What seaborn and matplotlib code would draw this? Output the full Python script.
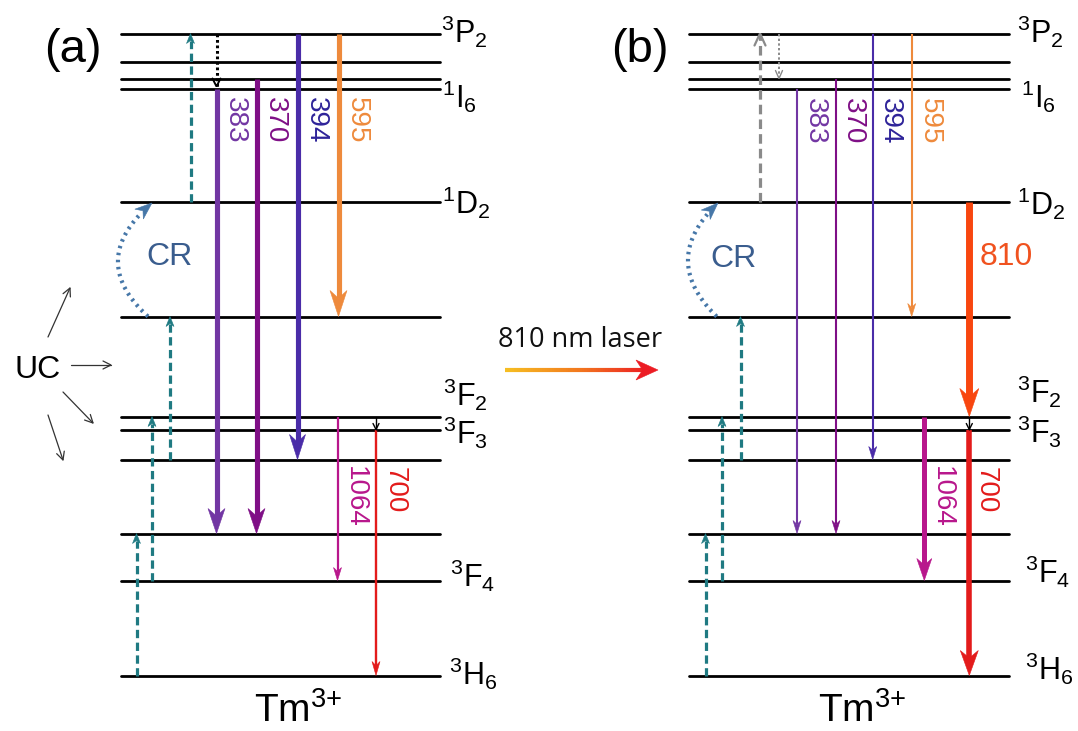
import numpy as np
import pandas as pd
import matplotlib
matplotlib.use("Agg")
import matplotlib.pyplot as plt
import seaborn as sns
from matplotlib.collections import LineCollection
from matplotlib.colors import LinearSegmentedColormap

# ------------------------------------------------------------------ data
level_names = ['3H6', '3F4', '3H5', '3H4', '3F3', '3F2', '1G4', '1D2', '1I6', '3P0', '3P1', '3P2']
level_energy = [0, 95, 142, 216, 246, 259, 359, 474, 587, 597, 614, 642]   # diagram units

label_levels = ['3P2', '1I6', '1D2', '3F2', '3F3', '3F4', '3H6']
label_texts = [r'$^{3}$P$_{2}$', r'$^{1}$I$_{6}$', r'$^{1}$D$_{2}$', r'$^{3}$F$_{2}$',
               r'$^{3}$F$_{3}$', r'$^{3}$F$_{4}$', r'$^{3}$H$_{6}$']

# emission transitions (nm)
em_names = ['383', '370', '394', '595', '1064', '700', '810']
em_from = ['1I6', '3P0', '3P2', '3P2', '3F2', '3F3', '1D2']
em_to = ['3H5', '3H5', '3H4', '1G4', '3F4', '3H6', '3F2']

# upconversion (excitation) steps
up_from = ['3H6', '3F4', '3H4', '1D2']
up_to = ['3H5', '3F2', '1G4', '3P2']

# non-radiative relaxations
relax_a = [('3P2', '1I6'), ('3F2', '3F3')]
relax_b = [('3P2', '3P0'), ('3F2', '3F3')]
cr_step = ('1G4', '1D2')

E = dict(zip(level_names, level_energy))

# ------------------------------------------------------------------ style / layout
W, H = 1078, 731
E0 = 675.5
def ypx(y):
    return E0 - y

panel_x = {'a': (121, 440), 'b': (689, 1009)}

colors = {'383': '#7236A3', '370': '#7F0F86', '394': '#4A2CA8', '595': '#EE8A3C',
          '1064': '#B8178C', '700': '#E31B1B', '810': '#F8460F'}
label_colors = {'383': '#7236A3', '370': '#7F0F86', '394': '#2E2399', '595': '#EE8A3C',
                '1064': '#B8178C', '700': '#E31B1B', '810': '#F0521F'}
teal = '#1F7A82'
grey = '#8A8A8A'
cr_col = '#4677A8'
cr_txt = '#3A5D8E'

em_style = {
    'a': {'383': (216.5, 3.7, 17, 25), '370': (256.5, 3.7, 17, 25), '394': (297.5, 3.7, 16, 25),
          '595': (338.5, 3.7, 17, 26), '1064': (337.5, 1.6, 8, 13), '700': (376, 1.7, 8, 14)},
    'b': {'383': (797, 1.5, 8, 13), '370': (836, 1.5, 8, 13), '394': (872.7, 1.5, 8, 13),
          '595': (911.7, 1.5, 8, 13), '1064': (924.3, 3.6, 15, 22), '700': (969.3, 4.0, 18, 25),
          '810': (969.3, 5.0, 19, 28)},
}
em_label_pos = {
    'a': {'383': (234.5, 120), '370': (275, 120), '394': (315.5, 120), '595': (357, 120),
          '1064': (355, 497), '700': (395, 490)},
    'b': {'383': (815, 121), '370': (853, 121), '394': (890, 121), '595': (930, 121),
          '1064': (942, 497), '700': (986, 490), '810': (1006, 257)},
}
up_x = {'a': [136.5, 152, 170, 190.5], 'b': [705.5, 722, 740.5, 760]}
relax_x = {'a': [216.5, 376], 'b': [779, 969.3]}
cr_geom = {'a': (148, 152, 118, 170, 257), 'b': (716.7, 718, 688, 734, 259)}

lab_pos = {
    'a': [(441, 43), (442, 108), (442, 214), (443, 406), (443, 444), (450, 587), (449, 685)],
    'b': [(1017, 43), (1021, 108), (1017, 215), (1017, 403), (1017, 443), (1025, 583), (1025, 680)],
}

# ------------------------------------------------------------------ figure
sns.set_theme(style='white')
plt.rcParams['font.family'] = ['Liberation Sans', 'DejaVu Sans']
plt.rcParams['text.color'] = 'black'
plt.rcParams['mathtext.fontset'] = 'custom'
plt.rcParams['mathtext.rm'] = 'Liberation Sans'
plt.rcParams['mathtext.it'] = 'Liberation Sans:italic'
plt.rcParams['mathtext.bf'] = 'Liberation Sans:bold'

fig = plt.figure(figsize=(W / 100, H / 100), dpi=100)
ax = fig.add_axes([0, 0, 1, 1])

rows = []
for p, (x0, x1) in panel_x.items():
    for n, e in zip(level_names, level_energy):
        rows.append({'uid': p + n, 'x': x0, 'E': e})
        rows.append({'uid': p + n, 'x': x1, 'E': e})
df = pd.DataFrame(rows)
sns.lineplot(data=df, x='x', y='E', units='uid', estimator=None, sort=False,
             color='black', lw=2.0, legend=False, ax=ax, zorder=2)

ax.set_xlim(0, W)
ax.set_ylim(E0 - H, E0)
ax.axis('off')


def head(x, y, dx, dy, w, L, color, filled=True, lw=1.0, notch=0.3, z=6):
    n = np.hypot(dx, dy)
    ux, uy = dx / n, dy / n
    px, py = -uy, ux
    bx, by = x - ux * L, y - uy * L
    left = (bx + px * w / 2, by + py * w / 2)
    right = (bx - px * w / 2, by - py * w / 2)
    nt = (x - ux * L * (1 - notch), y - uy * L * (1 - notch))
    if filled:
        ax.add_patch(plt.Polygon([(x, y), left, nt, right], closed=True, fc=color, ec=color,
                                 lw=0.4, zorder=z))
    else:
        ax.plot([left[0], x, right[0]], [left[1], y, right[1]], color=color, lw=lw,
                solid_capstyle='round', solid_joinstyle='miter', zorder=z)


def varrow(x, e0, e1, color, lw, w, L, dashes=None, filled=True, hlw=1.0, z=5):
    d = np.sign(e1 - e0)
    end = e1 - d * L * 0.7 if filled else e1
    line, = ax.plot([x, x], [e0, end], color=color, lw=lw, solid_capstyle='butt',
                    dash_capstyle='butt', zorder=z)
    if dashes is not None:
        line.set_dashes(dashes)
    head(x, e1, 0, d, w, L, color, filled=filled, lw=hlw, z=z + 1)


for p in ['a', 'b']:
    # upconversion dashed arrows
    for i, (f, t) in enumerate(zip(up_from, up_to)):
        if p == 'b' and i == 3:
            varrow(up_x[p][i], E[f], E[t], grey, 2.3, 11, 12, dashes=(3.0, 1.6), filled=False, hlw=1.6)
        else:
            varrow(up_x[p][i], E[f], E[t], teal, 2.3, 8, 10, dashes=(2.6, 1.4))
    # relaxations
    rl = relax_a if p == 'a' else relax_b
    f, t = rl[0]
    if p == 'a':
        varrow(relax_x[p][0], E[f], E[t] + 2, 'black', 2.2, 8, 8, dashes=(0.9, 0.9), filled=False, hlw=1.4)
    else:
        varrow(relax_x[p][0], E[f], E[t], grey, 1.4, 7, 8, dashes=(1.2, 1.2), filled=False, hlw=1.0)
    f, t = rl[1]
    varrow(relax_x[p][1], E[f], E[t], 'black', 1.0, 6, 6, filled=False, hlw=1.0, z=8)
    # emissions
    for n, f, t in zip(em_names, em_from, em_to):
        if n not in em_style[p]:
            continue
        x, lw, w, L = em_style[p][n]
        varrow(x, E[f], E[t], colors[n], lw, w, L)
        lx, ly = em_label_pos[p][n]
        if n == '810':
            ax.text(lx, ypx(ly), n, color=label_colors[n], fontsize=23, ha='center', va='center')
        else:
            ax.text(lx, ypx(ly), n, color=label_colors[n], fontsize=20, rotation=-90,
                    ha='center', va='center')
    # cross-relaxation curved dotted arrow
    xs, xe, xl, tx, ty = cr_geom[p]
    P0 = np.array([xs, E[cr_step[0]]])
    P2 = np.array([xe, E[cr_step[1]] - 1.5])
    C = np.array([(4 * xl - xs - xe) / 2, (P0[1] + P2[1]) / 2])
    tt = np.linspace(0, 0.9, 80)
    curve = ((1 - tt) ** 2)[:, None] * P0 + (2 * (1 - tt) * tt)[:, None] * C + (tt ** 2)[:, None] * P2
    ax.plot(curve[:, 0], curve[:, 1], color=cr_col, lw=3.0, ls=(0, (0.6, 1.1)),
            dash_capstyle='butt', zorder=5)
    tang = P2 - C
    head(P2[0], P2[1], tang[0], tang[1], 13, 17, cr_col)
    ax.text(tx, ypx(ty), 'CR', color=cr_txt, fontsize=23, ha='center', va='center')
    # level labels
    for txt, (lx, ly) in zip(label_texts, lab_pos[p]):
        ax.text(lx, ypx(ly), txt, fontsize=22, ha='left', va='baseline', color='black')

# panel letters and ion labels
ax.text(73, ypx(50), '(a)', fontsize=34, ha='center', va='center')
ax.text(640, ypx(50), '(b)', fontsize=34, ha='center', va='center')
ax.text(298, ypx(722), r'Tm$^{3{+}}$', fontsize=28, ha='center', va='baseline')
ax.text(862, ypx(722), r'Tm$^{3{+}}$', fontsize=28, ha='center', va='baseline')

# UC label and arrows
ax.text(38, ypx(370), 'UC', fontsize=23, ha='center', va='center')
uc_arrows = [((48, 337), (70, 288)), ((71, 365), (111, 365)), ((63, 392), (93, 423)), ((48, 415), (63, 460))]
for (x0, y0), (x1, y1) in uc_arrows:
    ax.plot([x0, x1], [ypx(y0), ypx(y1)], color='#333333', lw=0.9, zorder=5)
    head(x1, ypx(y1), x1 - x0, ypx(y1) - ypx(y0), 8, 8, '#333333', filled=False, lw=0.9)

# 810 nm laser gradient arrow
ax.text(580, ypx(347), '810 nm laser', fontsize=19.5, ha='center', va='baseline',
        family=['Open Sans', 'DejaVu Sans'], color='#111111')
cmap = LinearSegmentedColormap.from_list('las', ['#F6BE22', '#F27A1E', '#EC1C24'])
gx = np.linspace(505, 658 - 22 * 0.7, 60)
gy = np.full_like(gx, ypx(370))
segs = np.stack([np.column_stack([gx[:-1], gy[:-1]]), np.column_stack([gx[1:], gy[1:]])], axis=1)
lc = LineCollection(segs, colors=cmap(np.linspace(0, 0.95, len(segs))), lw=3.0, zorder=5,
                    capstyle='butt')
ax.add_collection(lc)
head(658, ypx(370), 1, 0, 20, 22, '#EC1C24')

fig.savefig('out.png', dpi=100, facecolor='white')
